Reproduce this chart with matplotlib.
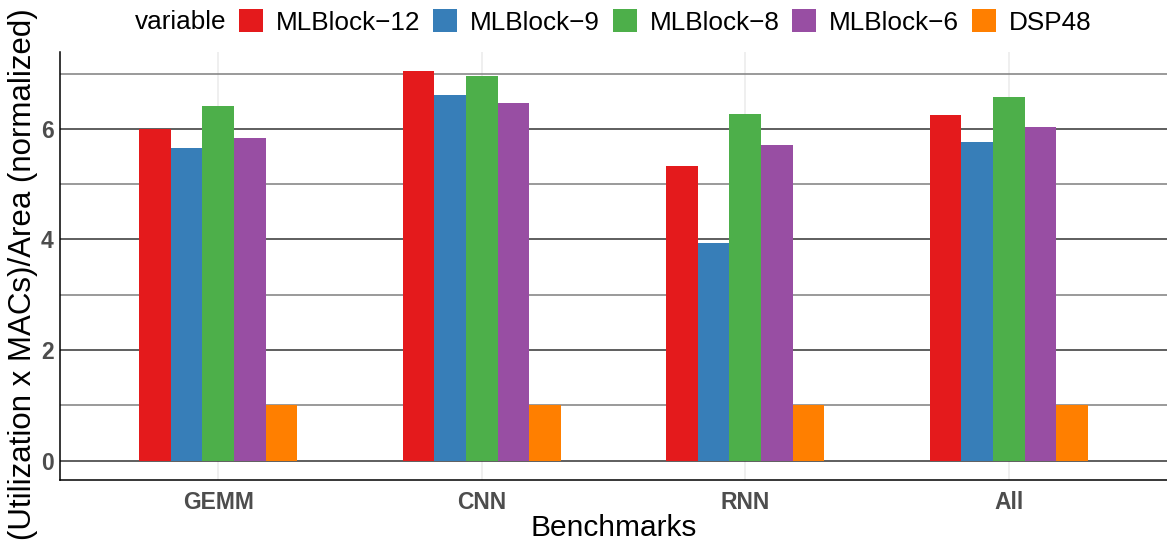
import matplotlib.pyplot as plt
import numpy as np

benchmarks = ['GEMM', 'CNN', 'RNN', 'All']
variants = ['MLBlock\u221212', 'MLBlock\u22129', 'MLBlock\u22128', 'MLBlock\u22126', 'DSP48']
colors = ['#E41A1C', '#377EB8', '#4DAF4A', '#984EA3', '#FF7F00']

mlblock_12 = [5.99, 7.04, 5.32, 6.25]
mlblock_9 = [5.66, 6.62, 3.94, 5.76]
mlblock_8 = [6.42, 6.95, 6.27, 6.58]
mlblock_6 = [5.84, 6.47, 5.70, 6.04]
dsp48 = [1.0, 1.0, 1.0, 1.0]
series = [mlblock_12, mlblock_9, mlblock_8, mlblock_6, dsp48]

plt.rcParams['font.family'] = ['Liberation Sans', 'DejaVu Sans']

W, H = 1167, 545
fig = plt.figure(figsize=(W / 100, H / 100), dpi=100)
ax = fig.add_axes([60 / W, 65 / H, 1 - 60 / W, (480 - 52) / H])

x = np.arange(len(benchmarks))
bw = 0.12
handles = []
for i, (vals, c) in enumerate(zip(series, colors)):
    b = ax.bar(x + (i - 2) * bw, vals, width=bw, color=c, zorder=3, linewidth=0)
    handles.append(b)

# grid lines like ggplot
for v in [1, 3, 5, 7]:
    ax.axhline(v, color='#7f7f7f', lw=1.1, zorder=1)
for v in [0, 2, 4, 6]:
    ax.axhline(v, color='#333333', lw=1.1, zorder=1)
for xi in x:
    ax.axvline(xi, color='#ebebeb', lw=1.1, zorder=0)

ax.set_xlim(-0.6, 3.6)
ax.set_ylim(-0.352, 7.39)
ax.set_xticks(x)
ax.set_xticklabels(benchmarks)
ax.set_yticks([0, 2, 4, 6])
ax.tick_params(length=0, labelsize=16.5, labelcolor='#4d4d4d')
ax.tick_params(axis='x', pad=8)
ax.tick_params(axis='y', pad=4.5)
for lab in ax.get_xticklabels() + ax.get_yticklabels():
    lab.set_fontweight('bold')

for s in ['top', 'right']:
    ax.spines[s].set_visible(False)
for s in ['left', 'bottom']:
    ax.spines[s].set_color('black')
    ax.spines[s].set_linewidth(1.1)

# axis titles
fig.text(614 / W, 1 - 528 / H, 'Benchmarks', fontsize=21.5, ha='center', va='center')
fig.text(23 / W, 1 - 274 / H, '(Utilization x MACs)/Area (normalized)', fontsize=22.5,
         rotation=90, ha='center', va='center')

# legend
fig.text(135 / W, 1 - 22 / H, 'variable', fontsize=18.8, va='center', ha='left')
fig.legend(handles, variants, ncol=5, loc='center left',
           bbox_to_anchor=(239 / W, 1 - 22 / H), frameon=False,
           fontsize=18.8, handlelength=0.92, handleheight=0.92,
           handletextpad=0.5, columnspacing=0.48, borderpad=0, borderaxespad=0)

fig.savefig('out.png', dpi=100)
